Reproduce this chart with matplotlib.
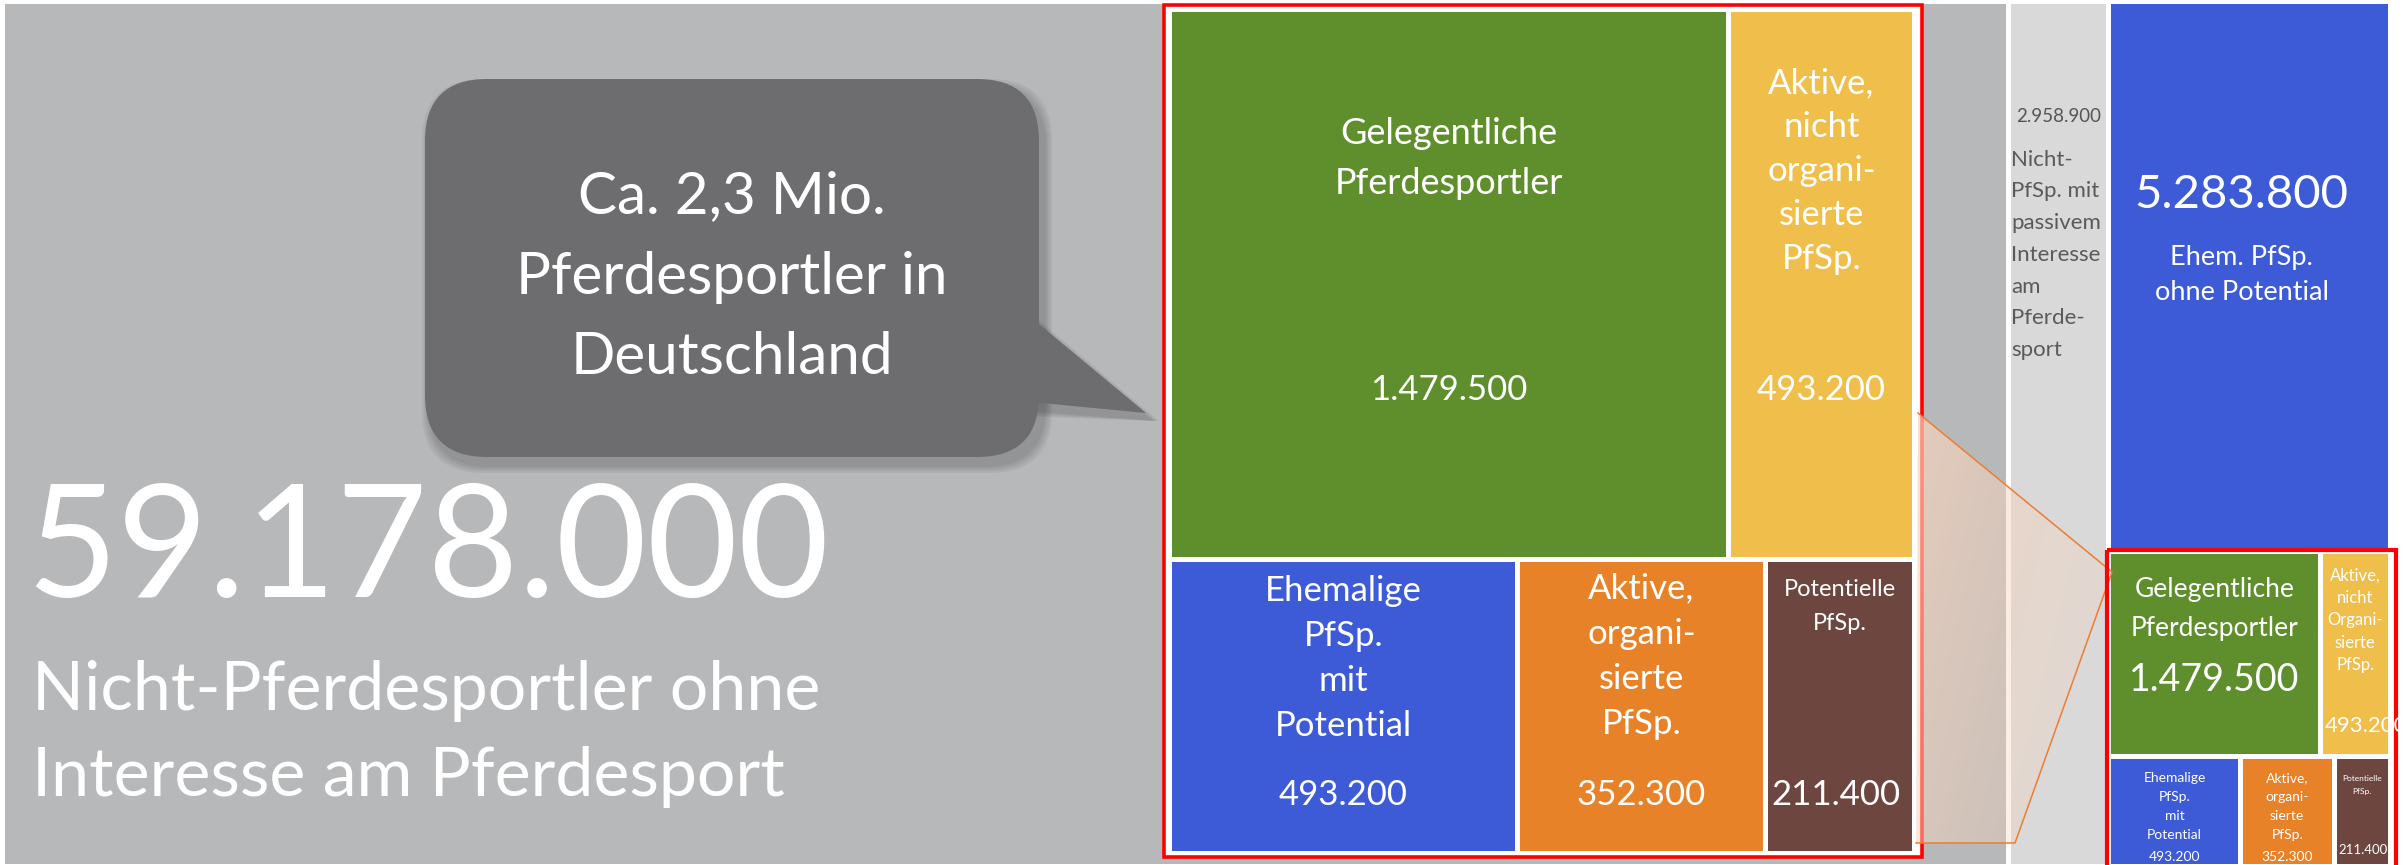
import matplotlib.pyplot as plt
from matplotlib.patches import Rectangle, FancyBboxPatch, Polygon
import numpy as np

# --- data -------------------------------------------------------------
seg_labels = ["Nicht-Pferdesportler ohne\nInteresse am Pferdesport",
              "Nicht-\nPfSp. mit\npassivem\nInteresse\nam\nPferde-\nsport",
              "Ehem. PfSp.\nohne Potential"]
seg_values = [59178000, 2958900, 5283800]
seg_colors = ['#b7b8ba', '#d9d9d9', '#3d5bd6']

sport_labels = ["Gelegentliche\nPferdesportler", "Aktive,\nnicht\norgani-\nsierte\nPfSp.",
                "Ehemalige\nPfSp.\nmit\nPotential", "Aktive,\norgani-\nsierte\nPfSp.",
                "Potentielle\nPfSp."]
sport_labels_small = ["Gelegentliche\nPferdesportler", "Aktive,\nnicht\nOrgani-\nsierte\nPfSp.",
                      "Ehemalige\nPfSp.\nmit\nPotential", "Aktive,\norgani-\nsierte\nPfSp.",
                      "Potentielle\nPfSp."]
sport_values = [1479500, 493200, 493200, 352300, 211400]
sport_colors = ['#5e8f2c', '#f0be4b', '#3d5bd6', '#e88228', '#6e4640']
n_top = 2   # tiles in the upper row of the sport block

callout_text = "Ca. 2,3 Mio.\nPferdesportler in\nDeutschland"

FONT = 'Lato'
W, H = 2407, 865
GAP = 2.5


def fmt(v):
    return f"{v:,}".replace(",", ".")


def split(rect, vals, horizontal):
    x0, y0, x1, y1 = rect
    tot = float(sum(vals))
    out = []
    pos = x0 if horizontal else y0
    for v in vals:
        if horizontal:
            w = (x1 - x0) * v / tot
            out.append((pos, y0, pos + w, y1))
            pos += w
        else:
            h = (y1 - y0) * v / tot
            out.append((x0, pos, x1, pos + h))
            pos += h
    return out


def sport_layout(rect):
    rows = split(rect, [sum(sport_values[:n_top]), sum(sport_values[n_top:])], False)
    return split(rows[0], sport_values[:n_top], True) + split(rows[1], sport_values[n_top:], True)


def tile(rect, color, z=1):
    x0, y0, x1, y1 = rect
    p = Rectangle((x0 + GAP, y0 + GAP), x1 - x0 - 2 * GAP, y1 - y0 - 2 * GAP,
                  fc=color, ec='none', zorder=z)
    ax.add_patch(p)
    return p


def lines(x, y, s, size, pitch, color='white', ha='center', clip=None):
    for i, ln in enumerate(s.split('\n')):
        t = ax.text(x, y + i * pitch, ln, fontsize=size, color=color, ha=ha,
                    va='center_baseline', family=FONT, zorder=8)
        if clip is not None:
            t.set_clip_path(clip)


fig = plt.figure(figsize=(W / 100, H / 100), dpi=100, facecolor='white')
ax = fig.add_axes([0, 0, 1, 1])
ax.axis('off')

# --- main treemap -----------------------------------------------------
area = (2.5, 1.5, 2390.5, 866.5)
group_total = sum(sport_values)
cols = split(area, [seg_values[0], seg_values[1], seg_values[2] + group_total], True)
right = split(cols[2], [seg_values[2], group_total], False)
seg_rects = [cols[0], cols[1], right[0]]
group = right[1]

patches = [tile(r, c) for r, c in zip(seg_rects, seg_colors)]

# big grey block
gx0, gy0 = seg_rects[0][0], seg_rects[0][1]
ax.text(gx0 + 24, gy0 + 537, fmt(seg_values[0]), fontsize=113, color='white',
        ha='left', va='center_baseline', family=FONT, zorder=8)
lines(gx0 + 30, gy0 + 683, seg_labels[0], 49, 86, ha='left')

# light grey column
r = seg_rects[1]
lines((r[0] + r[2]) / 2, r[1] + 114, fmt(seg_values[1]), 13.5, 0, color='#555555', clip=patches[1])
lines(r[0] + 3, r[1] + 156, seg_labels[1], 16, 31.8, color='#5a5a5a', ha='left', clip=patches[1])

# blue block
r = seg_rects[2]
lines((r[0] + r[2]) / 2 - 8, r[1] + 189, fmt(seg_values[2]), 34, 0)
lines((r[0] + r[2]) / 2 - 8, r[1] + 253, seg_labels[2], 19.5, 36)

# small sport block
mini_style = [(33, 39, 19, 123, 27, 'center'),
              (20, 22.5, 12, 170, 16, 'left'),
              (18, 19, 10, 97, 10, 'center'),
              (18, 19, 10, 97, 10, 'center'),
              (19, 13, 6, 90, 9.5, 'left')]
for rr, c, lab, v, st in zip(sport_layout(group), sport_colors, sport_labels_small, sport_values, mini_style):
    p = tile(rr, c)
    cx = (rr[0] + rr[2]) / 2
    top = rr[1] + GAP
    lines(cx, top + st[0], lab, st[2], st[1], clip=p)
    vx = cx if st[5] == 'center' else rr[0] + GAP + 2
    lines(vx, top + st[3], fmt(v), st[4], 0, ha=st[5], clip=p)

ax.add_patch(Rectangle((group[0] - 2, group[1] - 1), group[2] - group[0] + 7, group[3] - group[1] + 6,
                       fc='none', ec='#ff0000', lw=3, zorder=6))

# --- zoomed sport block -----------------------------------------------
inset = (1169.5, 9.5, 1914.5, 853.5)
ax.add_patch(Rectangle((1163.5, 4.5), 758, 852, fc='white', ec='#ff0000', lw=2.6, zorder=2))
inset_style = [(118, 51, 26, 375, 25, 'center'),
               (68, 44, 25, 375, 25, 'center'),
               (26, 45, 25, 230, 25, 'center'),
               (24, 45, 25, 230, 25, 'center'),
               (26, 34, 17, 230, 25, 'left')]
for rr, c, lab, v, st in zip(sport_layout(inset), sport_colors, sport_labels, sport_values, inset_style):
    p = tile(rr, c, z=3)
    cx = (rr[0] + rr[2]) / 2
    top = rr[1] + GAP
    lines(cx, top + st[0], lab, st[2], st[1], clip=p)
    vx = cx if st[5] == 'center' else rr[0] + GAP + 3
    lines(vx, top + st[3], fmt(v), st[4], 0, ha=st[5], clip=p)

# connector between the two red boxes
pts = [(1918, 413), (2112, 572), (2015, 843), (1916, 843)]
poly = Polygon(pts, closed=True, fc='none', ec='none', zorder=4)
ax.add_patch(poly)
gx, gy = np.meshgrid(np.linspace(0, 1, 200), np.linspace(0, 1, 200))
grad = np.zeros((200, 200, 4))
grad[..., :3] = np.array([247, 212, 188]) / 255.0
grad[..., 3] = 0.72 - 0.6 * (0.65 * gx + 0.35 * gy)
im = ax.imshow(grad, extent=(1916, 2112, 843, 413), origin='upper', zorder=4, interpolation='bilinear')
im.set_clip_path(poly)
ax.plot([p[0] for p in pts], [p[1] for p in pts], color='#ed7d31', lw=1.1, zorder=5)

# --- speech bubble ----------------------------------------------------
def bubble(dx, dy, color, alpha, z, grow=0):
    ax.add_patch(FancyBboxPatch((425 + dx - grow, 79 + dy - grow), 614 + 2 * grow, 378 + 2 * grow,
                                boxstyle="round,pad=0,rounding_size=62",
                                fc=color, ec='none', alpha=alpha, zorder=z))
    ax.add_patch(Polygon([(1010 + dx, 300 + dy - grow), (1146 + dx + grow, 413 + dy),
                          (1010 + dx, 400 + dy + grow)],
                         closed=True, fc=color, ec='none', alpha=alpha, zorder=z))

for g in [8, 6, 4, 2]:
    bubble(5, 8, 'black', 0.05, 6, grow=g)
bubble(0, 0, '#6d6d6f', 1, 7)
lines(732, 192, callout_text, 42, 80)

ax.set_aspect('auto')
ax.set_xlim(0, W)
ax.set_ylim(H, 0)
fig.savefig('out.png', dpi=100, facecolor='white')
